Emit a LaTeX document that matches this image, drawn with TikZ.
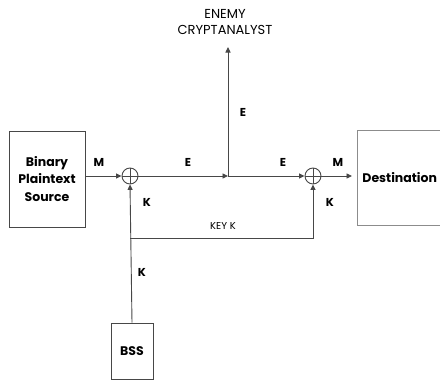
\documentclass[tikz,border=0pt]{standalone}
\usepackage{fontspec}
\setmainfont{Poppins}
\usetikzlibrary{arrows.meta}
\begin{document}
\begin{tikzpicture}[x=1pt,y=-1pt,
  ln/.style={draw=black!72, line width=0.9pt},
  arr/.style={ln, -{Triangle[length=5.5pt,width=5pt]}},
  box/.style={draw=black!72, line width=0.9pt, inner sep=0pt, align=center, font=\bfseries\fontsize{12.5}{17.5}\selectfont},
  xor/.style={circle, draw=black!72, line width=0.9pt, minimum size=16pt, inner sep=0pt,
    path picture={\draw[black!72, line width=0.9pt] (path picture bounding box.north) -- (path picture bounding box.south)
      (path picture bounding box.west) -- (path picture bounding box.east);}},
  lab/.style={font=\bfseries\fontsize{11.5}{13}\selectfont, inner sep=0pt},
  thin/.style={font=\fontsize{13}{16}\selectfont, inner sep=0pt, align=center}]
\useasboundingbox (0,0) rectangle (440,380);
\node[box, minimum width=76pt, minimum height=96pt] (src) at (47,179) {Binary\\Plaintext\\Source};
\begin{scope}
  \clip (0,0) rectangle (440,380);
  \node[box, draw=black!45, anchor=west, minimum width=100pt, minimum height=95pt, text width=92pt, align=left, inner xsep=5pt, font=\bfseries\fontsize{12.5}{17.5}\selectfont] (dst) at (357,177.5) {Destination};
\end{scope}
\node[box, minimum width=42pt, minimum height=56pt] (bss) at (132,351) {BSS};
\node[thin] (enemy) at (225,22) {ENEMY\\CRYPTANALYST};
\node[xor] (x1) at (130,176) {};
\node[xor] (x2) at (313,176) {};
\coordinate (j) at (228,176);
\coordinate (et) at (228,47);
\coordinate (kc) at (130,238);
\coordinate (kr) at (313,238);
\draw[arr] (src.east |- x1) -- (x1.west);
\draw[arr] (x1.east) -- (j);
\draw[arr] (j) -- (x2.west);
\draw[arr] (j) -- (et);
\draw[arr, shorten >=5pt] (x2.east) -- (dst.west |- x2);
\draw[arr] (bss.north) -- (x1.south);
\draw[arr] (kc) -- (kr) -- (x2.south);
\node[lab] (lm1) at (99,162) {M};
\node[lab] (le1) at (188,162) {E};
\node[lab] (le2) at (283,162) {E};
\node[lab] (lm2) at (338,162) {M};
\node[lab] (le3) at (243,112) {E};
\node[lab] (lk1) at (147,202) {K};
\node[lab] (lk2) at (330,202) {K};
\node[thin, font=\fontsize{10}{12}\selectfont] (lkey) at (223,226) {KEY K};
\node[lab] (lk3) at (142,272) {K};
\end{tikzpicture}
\end{document}
